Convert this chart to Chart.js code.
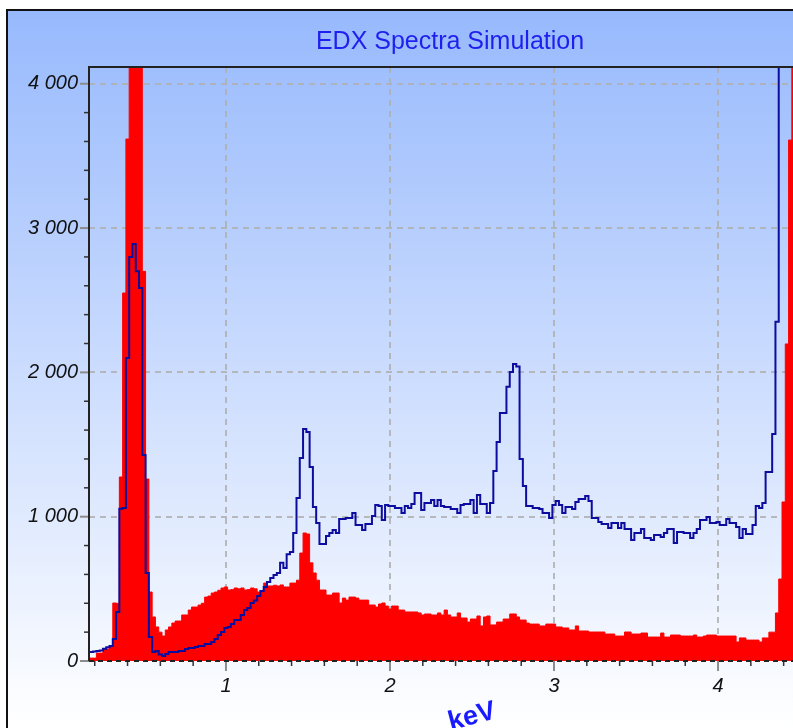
<!DOCTYPE html>
<html>
<head>
<meta charset="utf-8">
<script src="https://cdn.jsdelivr.net/npm/chart.js@4.4.1/dist/chart.umd.min.js"></script>
<style>
  html, body { margin: 0; padding: 0; background: #fff; overflow: hidden; }
  canvas { display: block; }
</style>
</head>
<body>
<canvas id="edx" width="793" height="728"></canvas>
<script>
// energy channels: first channel centre and channel width (keV)
const binStart = 0.16;
const binWidth = 0.02;

// red filled spectrum (counts per channel)
const filledCounts = [
  20, 20, 20, 55, 55, 83, 83, 104, 402, 400,
  1275, 2550, 3617, 5000, 6000, 5500, 4500, 2700, 1261, 478,
  305, 236, 200, 173, 215, 236, 263, 277, 277, 319,
  319, 353, 374, 374, 388, 400, 443, 450, 471, 478,
  490, 506, 513, 492, 495, 506, 500, 506, 492, 495,
  506, 500, 478, 478, 540, 520, 520, 525, 520, 527,
  513, 513, 540, 540, 560, 748, 887, 880, 680, 610,
  560, 492, 492, 457, 457, 471, 471, 402, 436, 422,
  443, 443, 436, 422, 422, 422, 388, 388, 374, 395,
  402, 381, 360, 381, 381, 353, 353, 340, 340, 340,
  340, 333, 319, 326, 326, 319, 319, 333, 319, 353,
  319, 305, 305, 333, 298, 298, 270, 291, 291, 312,
  243, 305, 312, 250, 250, 270, 270, 291, 291, 326,
  326, 305, 284, 284, 263, 256, 256, 256, 243, 243,
  256, 256, 256, 236, 236, 229, 229, 215, 215, 243,
  208, 208, 208, 201, 201, 201, 201, 201, 187, 187,
  187, 173, 173, 173, 201, 201, 187, 187, 187, 194,
  194, 166, 166, 166, 166, 194, 166, 166, 180, 180,
  180, 173, 173, 173, 173, 180, 166, 166, 173, 180,
  180, 180, 173, 173, 173, 173, 173, 173, 132, 160,
  160, 145, 145, 145, 145, 132, 160, 160, 200, 200,
  333, 568, 1102, 2197, 3610, 4500
];

// blue line spectrum (counts per channel)
const lineCounts = [
  62, 62, 65, 70, 72, 85, 95, 104, 152, 340,
  1055, 1060, 2100, 2800, 2890, 2700, 2585, 1428, 610, 166,
  62, 70, 45, 35, 48, 62, 62, 62, 70, 70,
  83, 90, 90, 97, 104, 104, 118, 118, 132, 152,
  180, 201, 229, 236, 256, 284, 284, 319, 353, 367,
  402, 420, 450, 485, 513, 547, 575, 596, 610, 680,
  644, 740, 755, 887, 1130, 1407, 1608, 1587, 1345, 1067,
  956, 811, 811, 866, 887, 908, 887, 984, 984, 991,
  991, 1026, 942, 942, 908, 949, 949, 1005, 1081, 1074,
  977, 1081, 1074, 1074, 1060, 1060, 1026, 1074, 1060, 1088,
  1164, 1164, 1046, 1095, 1095, 1116, 1074, 1116, 1074, 1067,
  1067, 1053, 1053, 1026, 1081, 1088, 1088, 1116, 1026, 1150,
  1088, 1088, 1026, 1095, 1317, 1518, 1719, 1719, 1900, 2003,
  2058, 2040, 1400, 1213, 1074, 1074, 1060, 1060, 1053, 1026,
  1026, 991, 1081, 1109, 1081, 1026, 1067, 1067, 1053, 1102,
  1123, 1123, 1143, 1109, 991, 991, 963, 949, 949, 921,
  956, 956, 921, 956, 914, 914, 838, 887, 887, 914,
  852, 852, 838, 873, 873, 859, 887, 914, 914, 817,
  894, 894, 887, 887, 852, 887, 914, 977, 977, 998,
  956, 956, 963, 942, 942, 984, 956, 956, 928, 852,
  914, 880, 880, 942, 1074, 1060, 1095, 1310, 1310, 1573,
  2350, 6000, 8000, 9000, 9000, 9000
];

const xTicks = [1, 2, 3, 4];
const yTicks = [0, 1000, 2000, 3000, 4000];
const title = "EDX Spectra Simulation";
const xTitle = "keV";

const near = (a, b) => Math.abs(a - b) < 1e-6;
const isStep = (v, step) => near(v / step, Math.round(v / step));
const fmt = (v) => String(v).replace(/\B(?=(\d{3})+(?!\d))/g, " ");
const toPoints = (arr) => arr.map((y, i) => ({ x: binStart + i * binWidth, y }));

const labelFont = { family: "'Liberation Sans', Arial, sans-serif", size: 20, style: "italic" };
const gridColor = "rgba(175,175,175,0.85)";

const frame = {
  id: "frame",
  beforeDraw(chart) {
    const { ctx, width, height } = chart;
    ctx.save();
    ctx.fillStyle = "#fff";
    ctx.fillRect(0, 0, width, height);
    const g = ctx.createLinearGradient(0, 10, 0, height);
    g.addColorStop(0, "#97b9fd");
    g.addColorStop(1, "#ffffff");
    ctx.fillStyle = g;
    ctx.fillRect(7, 10, width - 7, height - 10);
    ctx.strokeStyle = "#111";
    ctx.lineWidth = 2;
    ctx.beginPath();
    ctx.moveTo(7, height);
    ctx.lineTo(7, 10);
    ctx.lineTo(width, 10);
    ctx.stroke();
    ctx.restore();
  },
  afterDraw(chart) {
    const { ctx, chartArea: a } = chart;
    const xs = chart.scales.x, ys = chart.scales.y;
    ctx.save();

    // tick marks
    xs.ticks.forEach((t) => {
      if (!isStep(t.value, 0.2)) return;
      const px = xs.getPixelForValue(t.value);
      const major = xTicks.some((v) => near(v, t.value));
      ctx.strokeStyle = major ? "#8c8c8c" : "#333";
      ctx.lineWidth = major ? 2 : 1.5;
      ctx.beginPath();
      ctx.moveTo(px, a.bottom);
      ctx.lineTo(px, a.bottom + (major ? 10 : 5));
      ctx.stroke();
    });
    ys.ticks.forEach((t) => {
      if (!isStep(t.value, 200)) return;
      const py = ys.getPixelForValue(t.value);
      const major = yTicks.includes(t.value);
      ctx.strokeStyle = major ? "#8c8c8c" : "#333";
      ctx.lineWidth = major ? 2 : 1.5;
      ctx.beginPath();
      ctx.moveTo(a.left - (major ? 9 : 5), py);
      ctx.lineTo(a.left, py);
      ctx.stroke();
    });

    // axis lines
    ctx.strokeStyle = "#222";
    ctx.lineWidth = 2;
    ctx.beginPath();
    ctx.moveTo(a.left, a.bottom);
    ctx.lineTo(a.left, a.top);
    ctx.lineTo(a.right, a.top);
    ctx.stroke();
    ctx.setLineDash([5, 4]);
    ctx.beginPath();
    ctx.moveTo(a.left, a.bottom);
    ctx.lineTo(a.right, a.bottom);
    ctx.stroke();
    ctx.setLineDash([]);

    // title
    ctx.fillStyle = "#1f1fee";
    ctx.font = "25px 'Liberation Sans', Arial, sans-serif";
    ctx.textAlign = "center";
    ctx.textBaseline = "middle";
    ctx.fillText(title, 450, 42);

    // axis title, tilted
    ctx.translate(474, 724);
    ctx.rotate(-0.26);
    ctx.fillStyle = "#1a1aff";
    ctx.font = "bold 27px 'Liberation Sans', Arial, sans-serif";
    ctx.textBaseline = "alphabetic";
    ctx.fillText(xTitle, 0, 0);
    ctx.restore();
  }
};

new Chart(document.getElementById("edx"), {
  type: "line",
  data: {
    datasets: [
      {
        label: "line",
        data: toPoints(lineCounts),
        borderColor: "#0c0c9e",
        borderWidth: 2,
        stepped: "middle",
        fill: false,
        pointRadius: 0,
        order: 0
      },
      {
        label: "filled",
        data: toPoints(filledCounts),
        borderColor: "#ff0000",
        backgroundColor: "#ff0000",
        borderWidth: 1,
        stepped: "middle",
        fill: "origin",
        pointRadius: 0,
        order: 1
      }
    ]
  },
  options: {
    responsive: false,
    devicePixelRatio: 1,
    animation: false,
    layout: { padding: { top: 67, left: 0, right: 0, bottom: 0 } },
    plugins: { legend: { display: false }, tooltip: { enabled: false }, title: { display: false } },
    scales: {
      x: {
        type: "linear",
        min: 0.165,
        max: 4.457,
        afterFit: (s) => { s.height = 67; s.paddingLeft = 0; s.paddingRight = 0; },
        border: { display: false, dash: [6, 5] },
        grid: {
          drawTicks: false,
          lineWidth: 2,
          color: (c) => (xTicks.some((v) => near(v, c.tick.value)) ? gridColor : "transparent")
        },
        ticks: {
          stepSize: 0.2,
          includeBounds: false,
          autoSkip: false,
          maxRotation: 0,
          padding: 13,
          color: "#111",
          font: labelFont,
          callback: (v) => (xTicks.some((t) => near(t, v)) ? String(Math.round(v)) : "")
        }
      },
      y: {
        min: 0,
        max: 4116,
        afterFit: (s) => { s.width = 89; s.paddingTop = 0; s.paddingBottom = 0; },
        border: { display: false, dash: [6, 5] },
        grid: {
          drawTicks: false,
          lineWidth: 2,
          color: (c) => (yTicks.includes(c.tick.value) && c.tick.value !== 0 ? gridColor : "transparent")
        },
        ticks: {
          stepSize: 200,
          includeBounds: false,
          autoSkip: false,
          padding: 11,
          color: "#111",
          font: labelFont,
          callback: (v) => (yTicks.includes(v) ? fmt(v) : "")
        }
      }
    }
  },
  plugins: [frame]
});
</script>
</body>
</html>
